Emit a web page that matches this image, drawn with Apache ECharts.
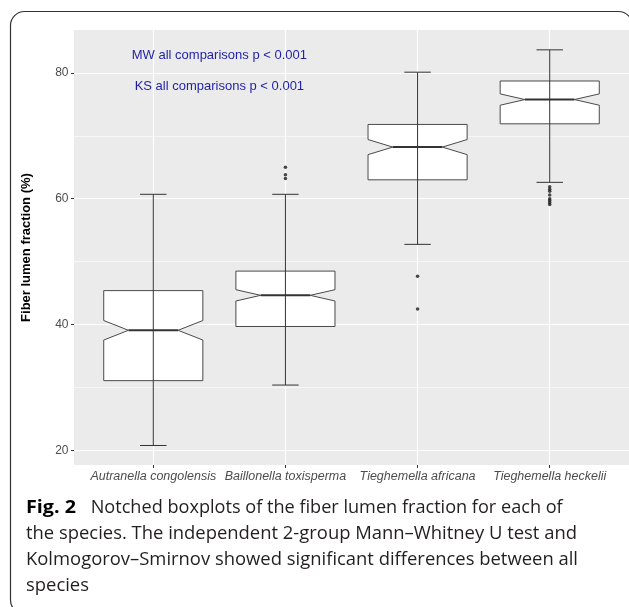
<!DOCTYPE html>
<html>
<head>
<meta charset="utf-8">
<script src="https://cdn.jsdelivr.net/npm/echarts@6/dist/echarts.min.js"></script>
<style>
html,body{margin:0;padding:0;background:#fff;}
#chart{width:629px;height:607px;}
</style>
</head>
<body>
<div id="chart"></div>
<script>
// ---- data ----
const categories = ['Autranella congolensis', 'Baillonella toxisperma', 'Tieghemella africana', 'Tieghemella heckelii'];
const whiskerLow  = [20.8, 30.4, 52.75, 62.6];
const q1          = [31.1, 39.7, 63.0, 71.9];
const median      = [39.1, 44.65, 68.2, 75.75];
const q3          = [45.4, 48.5, 71.8, 78.7];
const whiskerHigh = [60.7, 60.7, 80.1, 83.65];
const notchLow    = [37.55, 43.75, 67.0, 74.85];
const notchHigh   = [40.65, 45.55, 69.4, 76.65];
const outlierGroup = [2, 2, 2, 3, 3, 4, 4, 4, 4, 4, 4, 4, 4];
const outlierValue = [65.0, 63.8, 63.2, 47.7, 42.5, 61.9, 61.5, 61.2, 60.6, 60.0, 59.7, 59.4, 59.1];
const yTicks = [20, 40, 60, 80];
const yMinorTicks = [30, 50, 70];
const annotationTexts = ['MW all comparisons p < 0.001', 'KS all comparisons p < 0.001'];
const annotationX = [1.5, 1.5];
const annotationY = [82.8, 77.8];
const yTitle = 'Fiber lumen fraction (%)';
const captionBold = 'Fig. 2';
const captionLines = [
  'Notched boxplots of the fiber lumen fraction for each of',
  'the species. The independent 2-group Mann\u2013Whitney U test and',
  'Kolmogorov\u2013Smirnov showed significant differences between all',
  'species'
];

// ---- helpers ----
const measureCtx = document.createElement('canvas').getContext('2d');
function textWidth(text, font) { measureCtx.font = font; return measureCtx.measureText(text).width; }
const capFamily = "'Open Sans'";
const capSize = 18;
const capFont = capSize + 'px ' + capFamily;
const capBoldFont = 'bold ' + capSize + 'px ' + capFamily;
const sBold = 50 / textWidth(captionBold, capBoldFont);
const s1 = 472 / textWidth(captionLines[0], capFont);
const s2 = 551 / textWidth(captionLines[1], capFont);
const s3 = 552 / textWidth(captionLines[2], capFont);
const s4 = (s2 + s3) / 2;

const boxData = categories.map((c, i) => [i + 1, whiskerLow[i], q1[i], median[i], q3[i], whiskerHigh[i], notchLow[i], notchHigh[i]]);
const outlierData = outlierGroup.map((g, i) => [g, outlierValue[i]]);
const annData = annotationTexts.map((t, i) => [annotationX[i], annotationY[i], t]);

const chart = echarts.init(document.getElementById('chart'), null, { renderer: 'canvas' });

const BOX_HALF = 0.375, CAP_HALF = 0.1, NOTCH = 0.5;
const lineCol = '#333333';

function renderBox(params, api) {
  const x = api.value(0);
  const wl = api.coord([x, api.value(1)]);
  const pq1 = api.coord([x, api.value(2)]);
  const pm = api.coord([x, api.value(3)]);
  const pq3 = api.coord([x, api.value(4)]);
  const wh = api.coord([x, api.value(5)]);
  const nl = api.coord([x, api.value(6)]);
  const nh = api.coord([x, api.value(7)]);
  const hw = api.size([BOX_HALF, 0])[0];
  const cw = api.size([CAP_HALF, 0])[0];
  const cx = pm[0];
  const L = cx - hw, R = cx + hw, ins = hw * NOTCH;
  return {
    type: 'group',
    children: [
      { type: 'polygon', shape: { points: [
          [L, pq3[1]], [R, pq3[1]], [R, nh[1]], [R - ins, pm[1]], [R, nl[1]],
          [R, pq1[1]], [L, pq1[1]], [L, nl[1]], [L + ins, pm[1]], [L, nh[1]] ] },
        style: { fill: '#ffffff', stroke: '#4a4a4a', lineWidth: 1 } },
      { type: 'line', shape: { x1: cx, y1: wl[1], x2: cx, y2: wh[1] }, style: { stroke: lineCol, lineWidth: 1 } },
      { type: 'line', shape: { x1: cx - cw, y1: wl[1], x2: cx + cw, y2: wl[1] }, style: { stroke: lineCol, lineWidth: 1 } },
      { type: 'line', shape: { x1: cx - cw, y1: wh[1], x2: cx + cw, y2: wh[1] }, style: { stroke: lineCol, lineWidth: 1 } },
      { type: 'line', shape: { x1: L + ins, y1: pm[1], x2: R - ins, y2: pm[1] }, style: { stroke: lineCol, lineWidth: 2 } }
    ]
  };
}

function renderAnn(params, api) {
  const p = api.coord([api.value(0), api.value(1)]);
  return {
    type: 'text', x: p[0], y: p[1],
    style: { text: annData[params.dataIndex][2], fill: '#1f1fa8', font: '13px "Liberation Sans", Arial, sans-serif', align: 'center', verticalAlign: 'middle' }
  };
}

const option = {
  animation: false,
  backgroundColor: '#ffffff',
  grid: { left: 74, top: 30, width: 556, height: 435, show: true, backgroundColor: '#EBEBEB', borderWidth: 0, containLabel: false },
  xAxis: {
    type: 'value', min: 0.4, max: 4.6,
    axisLine: { show: false },
    axisTick: { show: true, length: 3, lineStyle: { color: '#333333', width: 1 }, customValues: [1, 2, 3, 4] },
    axisLabel: { show: true, margin: 5, customValues: [1, 2, 3, 4], formatter: v => categories[Math.round(v) - 1] || '',
      color: '#4d4d4d', fontSize: 12.5, fontStyle: 'italic', fontFamily: '"Liberation Sans", Arial, sans-serif' },
    splitLine: { show: true, lineStyle: { color: '#ffffff', width: 1.2 } }
  },
  yAxis: [{
    type: 'value', min: 17.7, max: 86.8,
    axisLine: { show: false },
    axisTick: { show: true, length: 3, lineStyle: { color: '#333333', width: 1 }, customValues: yTicks },
    axisLabel: { show: true, margin: 5.5, customValues: yTicks, color: '#4d4d4d', fontSize: 12, fontFamily: '"Liberation Sans", Arial, sans-serif' },
    splitLine: { show: true, lineStyle: { color: '#ffffff', width: 1.2 } }
  }, {
    type: 'value', min: 17.7, max: 86.8, position: 'left',
    axisLine: { show: false },
    axisTick: { show: false, customValues: yMinorTicks },
    axisLabel: { show: false, customValues: yMinorTicks },
    splitLine: { show: true, lineStyle: { color: '#ffffff', width: 0.6 } }
  }],
  series: [
    { type: 'custom', name: 'box', renderItem: renderBox, data: boxData, encode: { x: 0, y: [1, 5] }, z: 3 },
    { type: 'scatter', name: 'outliers', data: outlierData, symbol: 'circle', symbolSize: 3.5, itemStyle: { color: '#1a1a1a' }, z: 4 },
    { type: 'custom', name: 'ann', renderItem: renderAnn, data: annData.map(d => [d[0], d[1]]), encode: { x: 0, y: 1 }, z: 5 }
  ],
  graphic: [
    { type: 'rect', shape: { x: 10.5, y: 11.5, width: 622, height: 602.5, r: 14 }, style: { fill: 'none', stroke: '#333333', lineWidth: 1.2 }, z: 10 },
    { type: 'text', x: 26.5, y: 247.5, rotation: Math.PI / 2,
      style: { text: yTitle, font: 'bold 13px "Liberation Sans", Arial, sans-serif', fill: '#000000', align: 'center', verticalAlign: 'middle' } },
    { type: 'text', x: 26, y: 508, scaleX: sBold,
      style: { text: captionBold, font: capBoldFont, fill: '#000000', align: 'left', verticalAlign: 'middle' } },
    { type: 'text', x: 90.7, y: 508, scaleX: s1,
      style: { text: captionLines[0], font: capFont, fill: '#231f20', align: 'left', verticalAlign: 'middle' } },
    { type: 'text', x: 26, y: 534, scaleX: s2,
      style: { text: captionLines[1], font: capFont, fill: '#231f20', align: 'left', verticalAlign: 'middle' } },
    { type: 'text', x: 26, y: 560, scaleX: s3,
      style: { text: captionLines[2], font: capFont, fill: '#231f20', align: 'left', verticalAlign: 'middle' } },
    { type: 'text', x: 26, y: 586, scaleX: s4,
      style: { text: captionLines[3], font: capFont, fill: '#231f20', align: 'left', verticalAlign: 'middle' } }
  ]
};
chart.setOption(option);
</script>
</body>
</html>
